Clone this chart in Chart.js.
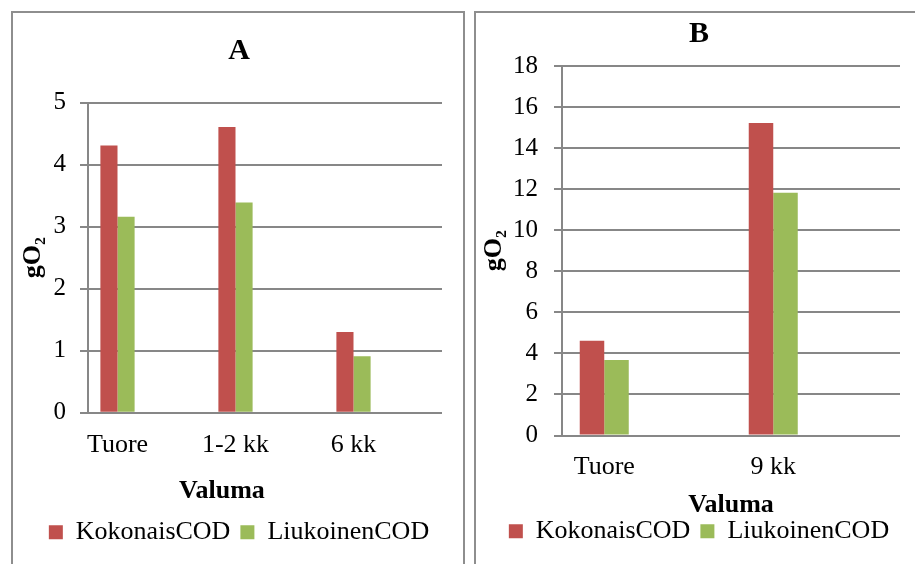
<!DOCTYPE html>
<html>
<head>
<meta charset="utf-8">
<script src="https://cdn.jsdelivr.net/npm/chart.js@4.4.1/dist/chart.umd.min.js"></script>
<style>
body{margin:0;background:#fff;width:915px;height:564px;overflow:hidden;position:relative}
.panel{position:absolute;top:11px;height:600px;border:2px solid #8e8e8e;box-sizing:border-box}
#panelA{left:11px;width:454px}
#panelB{left:474px;width:500px}
canvas{position:absolute}
#chartA{left:12px;top:13px}
#chartB{left:476px;top:13px}
</style>
</head>
<body>
<div class="panel" id="panelA"></div>
<div class="panel" id="panelB"></div>
<canvas id="chartA" width="451" height="551"></canvas>
<canvas id="chartB" width="440" height="551"></canvas>
<script>
// kaavio A
const categoriesA = ['Tuore', '1-2 kk', '6 kk'];
const kokonaisA = [4.31, 4.61, 1.30];
const liukoinenA = [3.16, 3.39, 0.91];
const yTicksA = [0, 1, 2, 3, 4, 5];

// kaavio B
const categoriesB = ['Tuore', '9 kk'];
const kokonaisB = [4.61, 15.22];
const liukoinenB = [3.68, 11.83];
const yTicksB = [0, 2, 4, 6, 8, 10, 12, 14, 16, 18];

const seriesNames = ['KokonaisCOD', 'LiukoinenCOD'];
const xTitle = 'Valuma';
const yTitle = 'gO₂';

const FONT = "'Liberation Serif', 'Times New Roman', serif";
const GRID = '#878787';

// x-akselin otsikko piirretään itse, jotta sen voi siirtää sivuun
const xOtsikko = {
  id: 'xOtsikko',
  afterDraw(chart, args, o) {
    const {ctx, chartArea} = chart;
    ctx.save();
    ctx.font = 'bold 26px ' + FONT;
    ctx.fillStyle = '#000';
    ctx.textAlign = 'center';
    ctx.textBaseline = 'middle';
    ctx.fillText(o.text, chartArea.left + chartArea.width * o.pos, chartArea.bottom + o.dy);
    ctx.restore();
  }
};

function teeKaavio(id, otsikko, kategoriat, kok, liuk, yTicks, s) {
  const ctx = document.getElementById(id);
  return new Chart(ctx, {
    type: 'bar',
    data: {
      datasets: [
        {label: seriesNames[0], data: kok.map((v, i) => ({x: i, y: v})), backgroundColor: '#C0504D'},
        {label: seriesNames[1], data: liuk.map((v, i) => ({x: i, y: v})), backgroundColor: '#9BBB59'}
      ]
    },
    plugins: [xOtsikko],
    options: {
      responsive: false,
      animation: false,
      categoryPercentage: 0.29,
      barPercentage: 1,
      layout: {padding: {left: s.padLeft, top: 0, right: s.padRight, bottom: s.padBottom}},
      plugins: {
        tooltip: {enabled: false},
        title: {
          display: true,
          text: otsikko,
          color: '#000',
          font: {family: FONT, size: 30, weight: 'bold', lineHeight: 1.2},
          padding: {top: s.titleTop, bottom: s.titleBottom}
        },
        legend: {
          position: 'bottom',
          labels: {
            color: '#000',
            font: {family: FONT, size: 26},
            boxWidth: 14,
            boxHeight: 14,
            padding: 10
          }
        },
        xOtsikko: {text: xTitle, pos: s.xTitlePos, dy: s.xTitleDy}
      },
      scales: {
        x: {
          type: 'linear',
          offset: false,
          min: -0.25,
          max: kategoriat.length - 0.25,
          afterBuildTicks: sc => { sc.ticks = kategoriat.map((c, i) => ({value: i})); },
          afterFit: sc => { sc.height = s.xHeight; },
          grid: {display: false, drawTicks: false, offset: false},
          border: {display: false},
          ticks: {
            color: '#000',
            font: {family: FONT, size: 26},
            padding: s.xTickPad,
            maxRotation: 0,
            callback: v => kategoriat[v]
          }
        },
        y: {
          min: yTicks[0],
          max: yTicks[yTicks.length - 1],
          afterBuildTicks: sc => { sc.ticks = yTicks.map(v => ({value: v})); },
          afterFit: sc => { sc.width = s.yWidth; },
          grid: {color: GRID, lineWidth: 2, tickLength: 8, drawTicks: true},
          border: {display: true, color: GRID, width: 2},
          ticks: {color: '#000', font: {family: FONT, size: 25}, padding: s.yTickPad},
          title: {
            display: true,
            text: yTitle,
            color: '#000',
            font: {family: FONT, size: 26, weight: 'bold', lineHeight: 1.2},
            padding: {top: s.yTitlePad, bottom: 0}
          }
        }
      }
    }
  });
}

teeKaavio('chartA', 'A', categoriesA, kokonaisA, liukoinenA, yTicksA, {
  titleTop: 20, titleBottom: 33.7, padLeft: 24, yWidth: 52, yTitlePad: -18.8, yTickPad: 14,
  xHeight: 96.5, xTickPad: 16.4, xTitlePos: 0.3785, xTitleDy: 78.1,
  padRight: 21, padBottom: 8.8
});

teeKaavio('chartB', 'B', categoriesB, kokonaisB, liukoinenB, yTicksB, {
  titleTop: 3.3, titleBottom: 13.7, padLeft: 22, yWidth: 64, yTitlePad: -19.1, yTickPad: 16,
  xHeight: 72.8, xTickPad: 15.6, xTitlePos: 0.5, xTitleDy: 69.5,
  padRight: 16, padBottom: 9.7
});
</script>
</body>
</html>
